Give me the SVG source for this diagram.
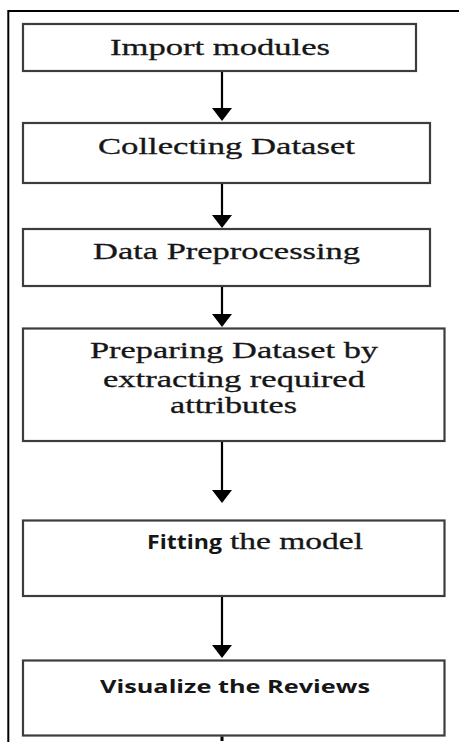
<svg xmlns="http://www.w3.org/2000/svg" width="459" height="742" viewBox="0 0 459 742">
  <style>
    .frame { fill: none; stroke: #000; stroke-width: 2; }
    .box { fill: #fff; stroke: #3c3c3c; stroke-width: 2.2; }
    .serif { font-family: "Liberation Serif", "Times New Roman", serif; font-size: 24px; fill: #161616; stroke: #161616; stroke-width: 0.3; }
    .sans { font-family: "Open Sans", "Noto Sans", "DejaVu Sans", sans-serif; font-weight: bold; fill: #161616; }
    .conn { fill: none; stroke: #000; stroke-width: 2.2; }
  </style>
  <defs>
    <marker id="head" viewBox="0 0 13 20" refX="7" refY="10" markerWidth="13" markerHeight="20" markerUnits="userSpaceOnUse" orient="auto">
      <path d="M0,0 L13,10 L0,20 z" fill="#000"/>
    </marker>
  </defs>

  <rect width="459" height="742" fill="#fff"/>

  <!-- page frame: top and left rules -->
  <path class="frame" d="M8.3,742 V11 H459"/>

  <g id="n1">
    <rect class="box" x="23" y="24" width="393" height="47"/>
    <text class="serif" x="110" y="55" textLength="220" lengthAdjust="spacingAndGlyphs">Import modules</text>
  </g>

  <g id="n2">
    <rect class="box" x="23" y="123" width="407" height="60"/>
    <text class="serif" x="98" y="154" textLength="257" lengthAdjust="spacingAndGlyphs">Collecting Dataset</text>
  </g>

  <g id="n3">
    <rect class="box" x="23" y="229" width="407" height="57"/>
    <text class="serif" x="93" y="259" textLength="267" lengthAdjust="spacingAndGlyphs">Data Preprocessing</text>
  </g>

  <g id="n4">
    <rect class="box" x="23" y="328.5" width="421.5" height="112.5"/>
    <text class="serif" x="90" y="358" textLength="288" lengthAdjust="spacingAndGlyphs">Preparing Dataset by</text>
    <text class="serif" x="103" y="387" textLength="262" lengthAdjust="spacingAndGlyphs">extracting required</text>
    <text class="serif" x="170" y="413" textLength="127" lengthAdjust="spacingAndGlyphs">attributes</text>
  </g>

  <g id="n5">
    <rect class="box" x="23" y="520.5" width="421.5" height="75.5"/>
    <text y="549"><tspan class="sans" x="147" font-size="19" textLength="75" lengthAdjust="spacingAndGlyphs">Fitting</tspan><tspan class="serif" x="230" font-size="21" textLength="133" lengthAdjust="spacingAndGlyphs">the model</tspan></text>
  </g>

  <g id="n6">
    <rect class="box" x="23" y="660.5" width="421.5" height="75"/>
    <text class="sans" x="100" y="693" font-size="18.5" textLength="270" lengthAdjust="spacingAndGlyphs">Visualize the Reviews</text>
  </g>

  <g id="connectors">
    <path class="conn" d="M222,72 V115" marker-end="url(#head)"/>
    <path class="conn" d="M222,184 V222" marker-end="url(#head)"/>
    <path class="conn" d="M222,287 V321" marker-end="url(#head)"/>
    <path class="conn" d="M222,442 V497" marker-end="url(#head)"/>
    <path class="conn" d="M222,597 V652" marker-end="url(#head)"/>
    <path d="M222,736.5 V741" stroke="#000" stroke-width="3"/>
  </g>
</svg>
